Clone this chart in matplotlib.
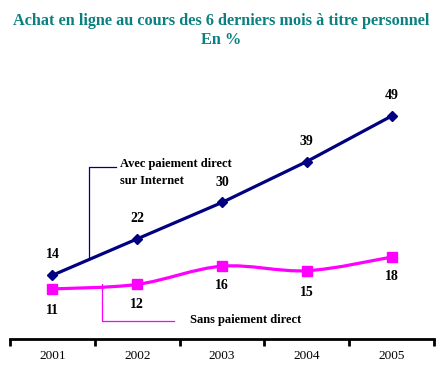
import numpy as np
import matplotlib.pyplot as plt
from matplotlib.path import Path
from matplotlib.patches import PathPatch

# donnees
annees = ["2001", "2002", "2003", "2004", "2005"]
avec_paiement = [14, 22, 30, 39, 49]
sans_paiement = [11, 12, 16, 15, 18]

navy = "#000080"
magenta = "#FF00FF"
teal = "#0A8080"
serif = ["Liberation Serif", "DejaVu Serif"]

fig = plt.figure(figsize=(4.42, 3.73), dpi=100)
ax = fig.add_axes([0.0226, 0.0912, 0.9594, 0.732])

x = np.arange(len(annees))

# ligne avec paiement direct
ax.plot(x, avec_paiement, color=navy, lw=2.3, marker="D", ms=5.5, zorder=3)

# ligne lissee sans paiement direct (bezier facon Excel)
pts = np.column_stack([x, sans_paiement]).astype(float)
verts = [tuple(pts[0])]
codes = [Path.MOVETO]
t = 1 / 6
for i in range(len(pts) - 1):
    p0 = pts[max(i - 1, 0)]
    p1 = pts[i]
    p2 = pts[i + 1]
    p3 = pts[min(i + 2, len(pts) - 1)]
    c1 = p1 + (p2 - p0) * t
    c2 = p2 - (p3 - p1) * t
    verts += [tuple(c1), tuple(c2), tuple(p2)]
    codes += [Path.CURVE4] * 3
ax.add_patch(PathPatch(Path(verts, codes), fill=False, edgecolor=magenta, lw=2.3, zorder=2))
ax.plot(x, sans_paiement, ls="none", marker="s", ms=7.5, color=magenta, zorder=3)

# etiquettes de valeurs
for xi, v in zip(x, avec_paiement):
    ax.annotate(str(v), (xi, v), xytext=(0, 10), textcoords="offset points",
                ha="center", va="bottom", fontsize=10, fontweight="bold", family=serif)
decal = [-11, -10, -9, -11, -9]
for xi, v, d in zip(x, sans_paiement, decal):
    ax.annotate(str(v), (xi, v), xytext=(0, d), textcoords="offset points",
                ha="center", va="top", fontsize=10, fontweight="bold", family=serif)

# legendes avec traits
ax.plot([0.43, 0.43, 0.75], [17.8, 37.7, 37.7], color=navy, lw=0.9)
ax.text(0.80, 38.5, "Avec paiement direct", ha="left", va="center",
        fontsize=9, fontweight="bold", family=serif)
ax.text(0.80, 34.7, "sur Internet", ha="left", va="center",
        fontsize=9, fontweight="bold", family=serif)
ax.plot([0.58, 0.58, 1.43], [12.1, 3.9, 3.9], color=magenta, lw=0.9)
ax.text(1.62, 4.1, "Sans paiement direct", ha="left", va="center",
        fontsize=9, fontweight="bold", family=serif)

# axes
ax.set_xlim(-0.5, 4.5)
ax.set_ylim(0, 60)
for s in ["top", "right", "left"]:
    ax.spines[s].set_visible(False)
ax.spines["bottom"].set_linewidth(2)
ax.set_yticks([])
ax.set_xticks(np.arange(-0.5, 5, 1))
ax.set_xticklabels([])
ax.set_xticks(x, minor=True)
ax.set_xticklabels(annees, minor=True, family=serif, fontsize=9.5)
ax.tick_params(axis="x", which="major", length=5, width=2, direction="out")
ax.tick_params(axis="x", which="minor", length=0, pad=8)

fig.text(0.5, 0.918, "Achat en ligne au cours des 6 derniers mois à titre personnel\nEn %",
         ha="center", va="center", color=teal, fontsize=11.7, fontweight="bold",
         family=serif, linespacing=1.3)

fig.savefig("out.png", dpi=100)
